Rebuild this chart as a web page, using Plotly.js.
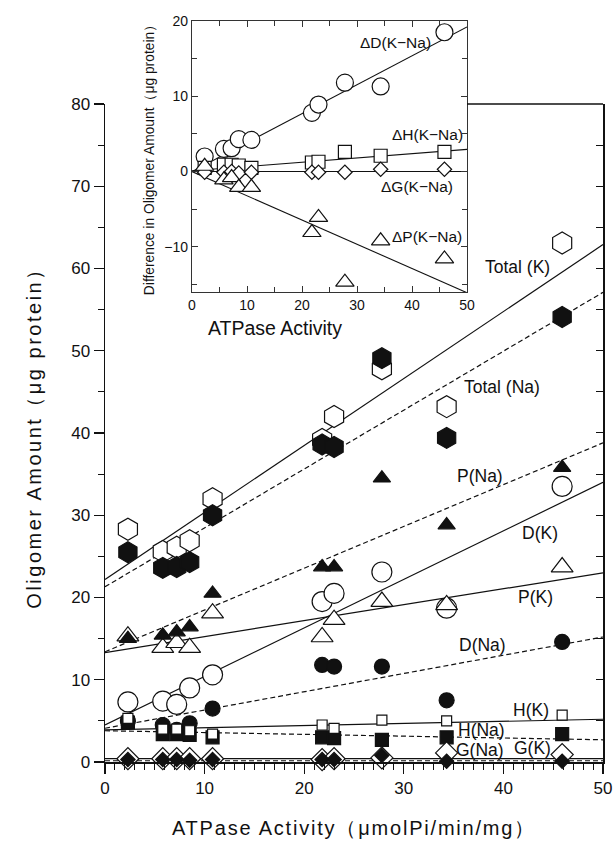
<!DOCTYPE html>
<html>
<head>
<meta charset="utf-8">
<script src="https://cdn.plot.ly/plotly-3.0.1.min.js"></script>
<style>html,body{margin:0;padding:0;background:#fff;}#chart{width:615px;height:843px;}</style>
</head>
<body>
<div id="chart"></div>
<script>
// ---- main plot data (ATPase activity vs oligomer amount, µg protein) ----
const activity = [2.3, 5.8, 7.2, 8.5, 10.8, 21.8, 23.0, 27.8, 34.3, 45.9];
const totalK  = [28.3, 25.6, 26.1, 26.9, 32.0, 39.2, 42.0, 47.8, 43.2, 63.1];
const totalNa = [25.5, 23.6, 23.7, 24.3, 30.0, 38.6, 38.3, 49.1, 39.4, 54.1];
const pK  = [15.3, 13.9, 14.5, 13.9, 18.1, 15.2, 17.3, 19.5, 19.1, 23.7];
const pNa = [15.0, 15.4, 15.8, 16.4, 20.5, 23.7, 23.7, 34.5, 28.8, 35.8];
const dK  = [7.3, 7.4, 7.0, 9.0, 10.6, 19.5, 20.5, 23.1, 18.7, 33.5];
const dNa = [5.0, 4.5, 3.9, 4.7, 6.5, 11.8, 11.6, 11.6, 7.5, 14.6];
const hK  = [5.3, 4.0, 4.0, 3.8, 3.4, 4.5, 4.1, 5.1, 5.0, 5.7];
const hNa = [4.8, 3.4, 3.4, 3.3, 3.0, 3.0, 2.9, 2.7, 3.0, 3.4];
const gK  = [0.4, 0.4, 0.4, 0.4, 0.4, 0.3, 0.4, 0.5, 1.1, 0.9];
const gNa = [0.3, 0.3, 0.3, 0.2, 0.3, 0.3, 0.3, 0.8, 0.1, 0.1];

// regression lines: value at x=0 and at x=50
const fitNames = ['Total (K)', 'Total (Na)', 'P(Na)', 'D(K)', 'P(K)', 'D(Na)', 'H(K)', 'H(Na)', 'G(Na)', 'G(K)'];
const fitAt0   = [22.2, 21.3, 13.4, 4.5, 13.3, 4.1, 3.9, 3.8, 0.15, 0.4];
const fitAt50  = [62.9, 57.1, 38.8, 34.0, 23.0, 15.2, 5.2, 2.7, 0.15, 0.4];
const fitIsNa  = [false, true, true, false, false, true, false, true, true, false];
const fitX = [0, 50];

// ---- inset data: difference K - Na ----
const diffD = [2.0, 3.0, 3.1, 4.3, 4.2, 7.8, 8.9, 11.8, 11.3, 18.5];
const diffH = [0.5, 0.9, 0.9, 0.8, 0.5, 1.2, 1.3, 2.6, 2.1, 2.6];
const diffG = [-0.1, -0.1, 0.0, -0.2, -0.1, -0.1, -0.1, -0.1, 0.3, 0.3];
const diffP = [0.7, -1.1, -0.8, -2.1, -2.1, -8.1, -6.1, -14.7, -9.2, -11.6];
const diffNames = ['ΔD(K−Na)', 'ΔH(K−Na)', 'ΔG(K−Na)', 'ΔP(K−Na)'];
const diffFitAt0  = [0.0, 0.1, 0.0, 0.0];
const diffFitAt50 = [19.2, 2.95, 0.0, -16.1];

const INK = '#111';
const FONT = 'Liberation Sans, Arial, sans-serif';

const traces = [];
fitNames.forEach((n, i) => {
  traces.push({x: fitX, y: [fitAt0[i], fitAt50[i]], mode: 'lines', xaxis: 'x', yaxis: 'y',
    line: {color: INK, width: 1.2, dash: fitIsNa[i] ? '5px,3px' : 'solid'}, hoverinfo: 'skip'});
});
function mk(y, symbol, size, filled, inset) {
  return {x: activity, y: y, mode: 'markers', xaxis: inset ? 'x3' : 'x', yaxis: inset ? 'y3' : 'y',
    cliponaxis: false, hoverinfo: 'skip',
    marker: {symbol: symbol, size: size, color: filled ? INK : '#fff',
             line: {color: INK, width: 1.2}}};
}
traces.push(mk(dK, 'circle', 20, false));
traces.push(mk(dNa, 'circle', 15, true));
traces.push(mk(pK, 'triangle-up', 19, false));
traces.push(mk(pNa, 'triangle-up', 15, true));
traces.push(mk(totalK, 'hexagon', 22, false));
traces.push(mk(totalNa, 'hexagon', 21, true));
traces.push(mk(hNa, 'square', 13, true));
traces.push(mk(hK, 'square', 10, false));
traces.push(mk(gK, 'diamond', 17, false));
traces.push(mk(gNa, 'diamond', 11, true));
traces.push({x: [null], y: [null], xaxis: 'x', yaxis: 'y2', mode: 'markers', hoverinfo: 'skip'});

diffNames.forEach((n, i) => {
  traces.push({x: fitX, y: [diffFitAt0[i], diffFitAt50[i]], mode: 'lines', xaxis: 'x3', yaxis: 'y3',
    line: {color: INK, width: 1.1}, hoverinfo: 'skip'});
});
traces.push(mk(diffD, 'circle', 17, false, true));
traces.push(mk(diffH, 'square', 13, false, true));
traces.push(mk(diffG, 'diamond', 11, false, true));
traces.push(mk(diffP, 'triangle-up', 16, false, true));

const mainLabelPos = [[41.4, 60.2], [39.9, 45.6], [37.7, 34.8], [43.7, 27.8], [43.2, 20.0],
                      [37.9, 14.2], [42.8, 6.3], [37.8, 3.9], [37.7, 1.5], [42.9, 1.7]];
const insetLabelPos = [[37.0, 17.2], [42.9, 4.9], [40.9, -2.0], [42.7, -8.6]];
const annotations = [];
fitNames.forEach((n, i) => annotations.push({text: n, x: mainLabelPos[i][0], y: mainLabelPos[i][1],
  xref: 'x', yref: 'y', showarrow: false, font: {size: 17.5, color: INK, family: FONT}}));
diffNames.forEach((n, i) => annotations.push({text: n, x: insetLabelPos[i][0], y: insetLabelPos[i][1],
  xref: 'x3', yref: 'y3', showarrow: false, font: {size: 15.5, color: INK, family: FONT}}));
annotations.push({text: 'ATPase Activity', xref: 'paper', yref: 'paper', x: 0.3414, y: 0.581,
  showarrow: false, font: {size: 19.5, color: INK, family: FONT}});

const layout = {
  width: 615, height: 843,
  margin: {l: 105, r: 12, t: 15, b: 81},
  paper_bgcolor: '#fff', plot_bgcolor: '#fff',
  showlegend: false,
  font: {family: FONT, color: INK},
  xaxis: {domain: [0, 1], range: [0, 50], anchor: 'y', showline: true, linewidth: 1.5, linecolor: INK,
    ticks: 'outside', ticklen: 10, tickwidth: 1.3, tickcolor: INK, tick0: 0, dtick: 10,
    minor: {dtick: 1, ticklen: 6, ticks: 'outside', tickcolor: INK, tickwidth: 1},
    showgrid: false, zeroline: false, tickfont: {size: 17},
    title: {text: 'ATPase Activity（μmolPi/min/mg）', font: {size: 20}, standoff: 24}},
  yaxis: {domain: [0, 0.8809], range: [0, 80], anchor: 'x', showline: true, linewidth: 1.5, linecolor: INK,
    ticks: 'outside', ticklen: 10, tickwidth: 1.3, tickcolor: INK, tick0: 0, dtick: 10,
    minor: {dtick: 5, ticklen: 6, ticks: 'outside', tickcolor: INK, tickwidth: 1},
    showgrid: false, zeroline: false, tickfont: {size: 17},
    title: {text: 'Oligomer Amount（μg protein）', font: {size: 20}, standoff: 24}},
  yaxis2: {overlaying: 'y', side: 'right', anchor: 'x', range: [0, 80], showline: true, linewidth: 1.5,
    linecolor: INK, ticks: 'inside', ticklen: 7, tickcolor: INK, tick0: 0, dtick: 5,
    showticklabels: false, showgrid: false, zeroline: false},
  xaxis3: {domain: [0.1747, 0.7269], range: [0, 50], anchor: 'y3', showline: true, linewidth: 1.1,
    linecolor: '#333', mirror: 'ticks', ticks: 'inside', ticklen: 6, tickcolor: '#333', tick0: 0, dtick: 10,
    minor: {dtick: 5, ticklen: 5, ticks: 'inside', tickcolor: '#333'},
    showgrid: false, zeroline: false, tickfont: {size: 14}},
  yaxis3: {domain: [0.6292, 0.9920], range: [-16, 20], anchor: 'x3', showline: true, linewidth: 1.1,
    linecolor: '#333', mirror: 'ticks', ticks: 'inside', ticklen: 6, tickcolor: '#333', tick0: 0, dtick: 10,
    minor: {dtick: 5, ticklen: 5, ticks: 'inside', tickcolor: '#333'},
    showgrid: false, zeroline: false, tickfont: {size: 14},
    title: {text: 'Difference in Oligomer Amount（μg protein）', font: {size: 13.8}, standoff: 6}},
  shapes: [{type: 'line', xref: 'paper', yref: 'paper', x0: 0.7269, x1: 1, y0: 0.8809, y1: 0.8809,
    line: {color: INK, width: 1.5}}],
  annotations: annotations
};
Plotly.newPlot('chart', traces, layout, {staticPlot: true, displayModeBar: false}).then(gd => {
  const spacing = {'xtitle': '1.8px', 'ytitle': '2.5px'};
  Object.keys(spacing).forEach(cls => {
    gd.querySelectorAll('text.' + cls).forEach(el => el.setAttribute('letter-spacing', spacing[cls]));
  });
});
</script>
</body>
</html>
